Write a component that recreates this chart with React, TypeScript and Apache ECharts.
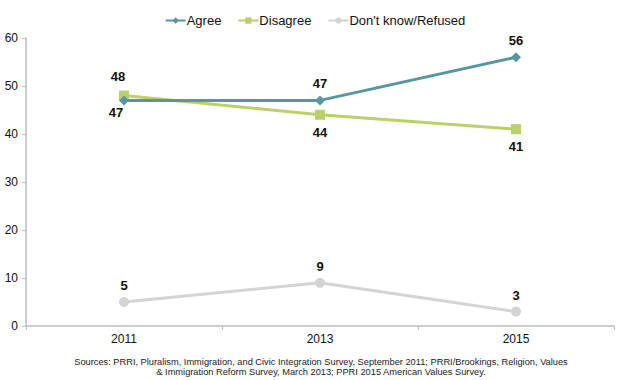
import React, { useEffect, useRef } from "react";
import * as echarts from "echarts";

const years = ["2011", "2013", "2015"];
const agree = [47, 47, 56];
const disagree = [48, 44, 41];
const dontKnow = [5, 9, 3];
const sourceLines = [
  "Sources: PRRI, Pluralism, Immigration, and Civic Integration Survey, September 2011; PRRI/Brookings, Religion, Values",
  "& Immigration Reform Survey, March 2013; PPRI 2015 American Values Survey.",
];

export default function App() {
  const ref = useRef<HTMLDivElement>(null);
  useEffect(() => {
    const chart = echarts.init(ref.current!, null, { renderer: "svg" });
    const labelStyle = { show: true, fontSize: 13, fontWeight: "bold", color: "#111", fontFamily: "Liberation Sans, Arial, sans-serif" };
    chart.setOption({
      animation: false,
      textStyle: { fontFamily: "Liberation Sans, Arial, sans-serif" },
      legend: {
        top: 9,
        left: "center",
        itemWidth: 20,
        itemHeight: 8,
        itemGap: 16,
        textStyle: { fontSize: 13, color: "#111", padding: [0, 0, 0, -4] },
        data: ["Agree", "Disagree", "Don't know/Refused"],
      },
      grid: { left: 26, right: 16, top: 38, bottom: 54 },
      xAxis: {
        type: "category",
        data: years,
        boundaryGap: true,
        axisLine: { lineStyle: { color: "#bdbdbd", width: 1.5 } },
        axisTick: { show: true, length: 4, lineStyle: { color: "#bdbdbd" } },
        axisLabel: { fontSize: 12, color: "#111", margin: 7 },
      },
      yAxis: {
        type: "value",
        min: 0,
        max: 60,
        interval: 10,
        axisLine: { show: true, lineStyle: { color: "#bdbdbd", width: 1.5 } },
        axisTick: { show: true, length: 4, lineStyle: { color: "#bdbdbd" } },
        splitLine: { show: false },
        axisLabel: { fontSize: 12, color: "#111", margin: 8 },
      },
      series: [
        {
          name: "Agree",
          type: "line",
          data: agree.map((v, i) => ({
            value: v,
            label: i === 0 ? { position: "bottom", offset: [-8, -4] } : { position: "top", offset: [0, 0] },
          })),
          symbol: "diamond",
          symbolSize: 10,
          lineStyle: { color: "#5797a1", width: 3 },
          itemStyle: { color: "#5797a1" },
          label: labelStyle,
          z: 3,
        },
        {
          name: "Disagree",
          type: "line",
          data: disagree.map((v, i) => ({
            value: v,
            label: i === 0 ? { position: "top", offset: [-6, -3] } : { position: "bottom", offset: [0, 1] },
          })),
          symbol: "rect",
          symbolSize: 10,
          lineStyle: { color: "#bad169", width: 3 },
          itemStyle: { color: "#bad169" },
          label: labelStyle,
          z: 2,
        },
        {
          name: "Don't know/Refused",
          type: "line",
          data: dontKnow.map((v) => ({ value: v, label: { position: "top" } })),
          symbol: "circle",
          symbolSize: 10,
          lineStyle: { color: "#d4d4d4", width: 3 },
          itemStyle: { color: "#d4d4d4" },
          label: labelStyle,
          z: 1,
        },
      ],
      graphic: [
        {
          type: "text",
          x: 321,
          y: 357,
          scaleX: 1.03,
          style: {
            text: sourceLines.join("\n"),
            fontSize: 9,
            lineHeight: 10,
            fill: "#222",
            align: "center",
            verticalAlign: "top",
            fontFamily: "Liberation Sans, Arial, sans-serif",
          },
        },
      ],
    });
    return () => chart.dispose();
  }, []);
  return <div ref={ref} style={{ width: 630, height: 380, position: "absolute", left: 0, top: 0 }} />;
}
